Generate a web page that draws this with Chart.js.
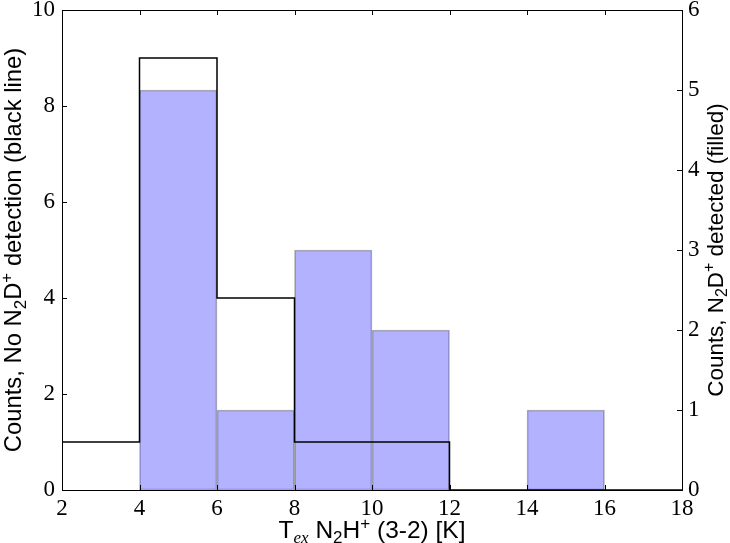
<!DOCTYPE html>
<html>
<head>
<meta charset="utf-8">
<script src="https://cdn.jsdelivr.net/npm/chart.js@4.4.1/dist/chart.umd.min.js"></script>
<style>
  html, body { margin: 0; padding: 0; background: #ffffff; }
</style>
</head>
<body>
<canvas id="theViz" width="730" height="543"></canvas>
<script>
// histogram bins (K) and counts
const binEdges = [2, 4, 6, 8, 10, 12, 14, 16, 18];
const noDetCounts = [1, 9, 4, 1, 1, 0, 0, 0];   // left axis, black outline
const detCounts = [0, 5, 1, 3, 2, 0, 1, 0];     // right axis, filled
const xTicks = [2, 4, 6, 8, 10, 12, 14, 16, 18];
const leftTicks = [0, 2, 4, 6, 8, 10];
const rightTicks = [0, 1, 2, 3, 4, 5, 6];

// step outline points, left edge of each bin
const stepPoints = [{x: binEdges[0], y: 0}];
noDetCounts.forEach((c, i) => stepPoints.push({x: binEdges[i], y: c}));
stepPoints.push({x: binEdges[binEdges.length - 1], y: 0});

// filled bars at bin centres (skip empty bins)
const barPoints = [];
detCounts.forEach((c, i) => {
    if (c > 0) barPoints.push({x: (binEdges[i] + binEdges[i + 1]) / 2, y: c});
});

const serif = "'Liberation Serif', serif";
const sans = "'Liberation Sans', sans-serif";

function drawRich(ctx, parts, size, cx, baseY, rot) {
    ctx.save();
    ctx.translate(cx, baseY);
    ctx.rotate(rot);
    ctx.textBaseline = 'alphabetic';
    ctx.textAlign = 'left';
    const fontOf = p => {
        const s = (p.sub || p.sup) ? Math.round(size * 0.7) : size;
        return (p.italic ? 'italic ' : '') + s + 'px ' + (p.serif ? serif : sans);
    };
    let total = 0;
    parts.forEach(p => { ctx.font = fontOf(p); total += ctx.measureText(p.t).width; });
    let x = -total / 2;
    parts.forEach(p => {
        ctx.font = fontOf(p);
        let dy = 0;
        if (p.sub) dy = size * 0.2;
        if (p.sup) dy = -size * 0.38;
        ctx.fillStyle = '#000';
        ctx.fillText(p.t, x, dy);
        x += ctx.measureText(p.t).width;
    });
    ctx.restore();
}

const framePlugin = {
    id: 'frame',
    afterDraw(chart) {
        const {ctx, chartArea: a, scales} = chart;
        ctx.save();
        ctx.strokeStyle = '#000';
        ctx.lineWidth = 1;
        const tl = 5;
        ctx.beginPath();
        xTicks.forEach(v => {
            const px = Math.round(scales.x.getPixelForValue(v)) + 0.5;
            ctx.moveTo(px, a.bottom); ctx.lineTo(px, a.bottom - tl);
            ctx.moveTo(px, a.top); ctx.lineTo(px, a.top + tl);
        });
        leftTicks.forEach(v => {
            const py = Math.round(scales.y.getPixelForValue(v)) + 0.5;
            ctx.moveTo(a.left, py); ctx.lineTo(a.left + tl, py);
        });
        rightTicks.forEach(v => {
            const py = Math.round(scales.y1.getPixelForValue(v)) + 0.5;
            ctx.moveTo(a.right, py); ctx.lineTo(a.right - tl, py);
        });
        ctx.stroke();
        ctx.strokeRect(Math.round(a.left) + 0.5, Math.round(a.top) + 0.5,
                       Math.round(a.right - a.left), Math.round(a.bottom - a.top));
        ctx.restore();

        const midY = (a.top + a.bottom) / 2;
        drawRich(ctx, [
            {t: 'Counts, No N'}, {t: '2', sub: true}, {t: 'D'}, {t: '+', sup: true},
            {t: ' detection (black line)'}
        ], 23.8, 21, midY, -Math.PI / 2);
        drawRich(ctx, [
            {t: 'Counts, N'}, {t: '2', sub: true}, {t: 'D'}, {t: '+', sup: true},
            {t: ' detected (filled)'}
        ], 22.4, 723, midY, -Math.PI / 2);
        drawRich(ctx, [
            {t: 'T'}, {t: 'ex', sub: true, italic: true, serif: true}, {t: ' N'}, {t: '2', sub: true},
            {t: 'H'}, {t: '+', sup: true}, {t: ' (3-2) [K]'}
        ], 24.5, (a.left + a.right) / 2, 538, 0);
    }
};

const ctx = document.getElementById('theViz').getContext('2d');
new Chart(ctx, {
    type: 'bar',
    data: {
        datasets: [{
            type: 'line',
            label: 'No N2D+ detection',
            data: stepPoints,
            yAxisID: 'y',
            stepped: 'before',
            borderColor: '#000000',
            borderWidth: 1.5,
            pointRadius: 0,
            fill: false,
            order: 0
        }, {
            type: 'bar',
            label: 'N2D+ detected',
            data: barPoints,
            yAxisID: 'y1',
            backgroundColor: 'rgba(0, 0, 255, 0.3)',
            borderColor: 'rgba(0, 0, 0, 0.3)',
            borderWidth: 1,
            borderSkipped: false,
            barPercentage: 1,
            categoryPercentage: 1,
            order: 1
        }]
    },
    options: {
        responsive: false,
        animation: false,
        layout: { padding: 0 },
        plugins: { legend: { display: false }, tooltip: { enabled: false } },
        scales: {
            x: {
                type: 'linear',
                min: 2, max: 18,
                offset: false,
                grid: { display: false, drawTicks: false, offset: false },
                border: { display: false },
                ticks: {
                    stepSize: 2, padding: 5, color: '#000',
                    font: { family: serif, size: 23 }
                },
                afterFit(s) { s.height = 53; }
            },
            y: {
                position: 'left',
                min: 0, max: 10,
                grid: { display: false, drawTicks: false },
                border: { display: false },
                ticks: {
                    stepSize: 2, padding: 7, color: '#000',
                    font: { family: serif, size: 23 }
                },
                afterFit(s) { s.width = 62; s.paddingTop = 10; s.paddingBottom = 0; }
            },
            y1: {
                position: 'right',
                min: 0, max: 6,
                grid: { display: false, drawTicks: false },
                border: { display: false },
                ticks: {
                    stepSize: 1, padding: 6, color: '#000',
                    font: { family: serif, size: 23 }
                },
                afterFit(s) { s.width = 48; s.paddingTop = 10; s.paddingBottom = 0; }
            }
        }
    },
    plugins: [framePlugin]
});
</script>
</body>
</html>
